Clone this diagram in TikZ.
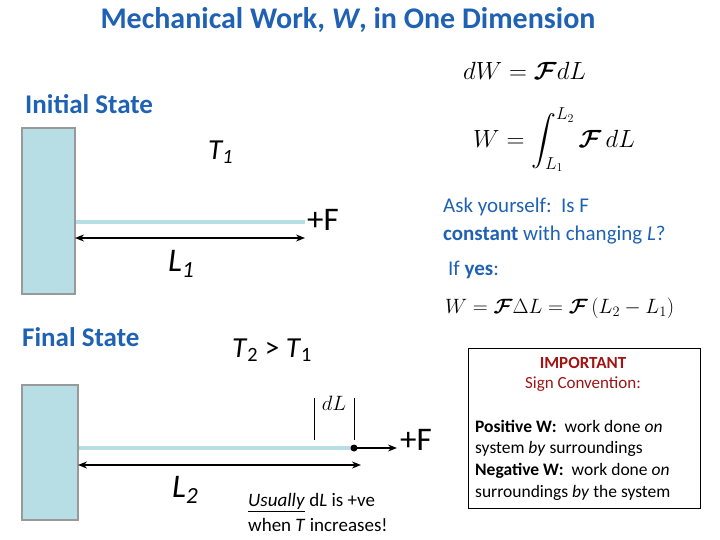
\documentclass[tikz,border=0pt]{standalone}
\usepackage{amsmath}
\usepackage{fontspec}
\setmainfont{Carlito}
\usetikzlibrary{arrows.meta}
\begin{document}
\begin{tikzpicture}[x=1pt,y=-1pt,
  wall/.style={draw=gray!80,fill={rgb,255:red,183;green,222;blue,228},line width=1.5pt},
  rod/.style={draw={rgb,255:red,183;green,222;blue,228},line width=4pt},
  dim/.style={{Stealth[length=9pt,width=7pt]}-{Stealth[length=9pt,width=7pt]},line width=2pt},
  blue/.style={text={rgb,255:red,31;green,98;blue,180}},
  lbl/.style={inner sep=0pt,anchor=west}]
\useasboundingbox (0,0) rectangle (720,540);
\node[blue,font=\bfseries\fontsize{30}{36}\selectfont] (title) at (348,20) {Mechanical Work, \textit{W}, in One Dimension};
\node[blue,lbl,font=\bfseries\fontsize{27}{30}\selectfont] (is) at (25,104) {Initial State};
\node[lbl,font=\itshape\fontsize{29}{32}\selectfont] (t1) at (208,152) {T\textsubscript{1}};
\draw[wall] (22,128) rectangle (75,294);
\coordinate (r1a) at (76,222); \coordinate (r1b) at (305,222);
\draw[rod] (r1a) -- (r1b);
\node[lbl,font=\fontsize{33}{36}\selectfont] (f1) at (307,220) {+F};
\coordinate (d1a) at (75,238); \coordinate (d1b) at (305,238);
\draw[dim] (d1a) -- (d1b);
\node[lbl,font=\itshape\fontsize{33}{36}\selectfont] (l1) at (168,264) {L\textsubscript{1}};
\node[blue,lbl,font=\bfseries\fontsize{27}{30}\selectfont] (fs) at (22,337) {Final State};
\node[lbl,font=\fontsize{29}{32}\selectfont] (t2) at (232,350) {\textit{T}\textsubscript{2} > \textit{T}\textsubscript{1}};
\draw[wall] (22,385) rectangle (78,520);
\coordinate (r2a) at (79,448); \coordinate (r2b) at (354,448);
\draw[rod] (r2a) -- (r2b);
\fill (r2b) circle (3.5);
\coordinate (fe) at (397,448);
\draw[-{Stealth[length=9pt,width=7pt]},line width=2pt] (r2b) -- (fe);
\node[lbl,font=\fontsize{33}{36}\selectfont] (f2) at (400,440) {+F};
\draw (314,398) -- (314,440);
\draw (354,398) -- (354,440);
\node[font=\fontsize{21}{24}\selectfont] (dl) at (334,403) {$dL$};
\coordinate (d2a) at (78,465); \coordinate (d2b) at (361,465);
\draw[dim] (d2a) -- (d2b);
\node[lbl,font=\itshape\fontsize{33}{36}\selectfont] (l2) at (172,490) {L\textsubscript{2}};
\node[lbl,font=\fontsize{19}{25}\selectfont,align=left] (us) at (248,512) {\underline{\textit{Usually}} d\textit{L} is +ve\\when \textit{T} increases!};
\node[lbl,font=\fontsize{25}{30}\selectfont] (e1) at (463,71) {$dW=\boldsymbol{\mathcal{F}}dL$};
\node[lbl,font=\fontsize{25}{30}\selectfont] (e2) at (473,140) {$W=\displaystyle\int_{L_1}^{L_2}\boldsymbol{\mathcal{F}}\,dL$};
\node[blue,lbl,font=\fontsize{21}{25}\selectfont] (a1) at (443,207) {Ask yourself:\ \ Is F};
\node[blue,lbl,font=\fontsize{21}{25}\selectfont] (a2) at (443,235) {\textbf{constant} with changing \textit{L}?};
\node[blue,lbl,font=\fontsize{21}{25}\selectfont] (a3) at (448,270) {If \textbf{yes}:};
\node[lbl,font=\fontsize{20.5}{25}\selectfont] (e3) at (445,308) {$W=\boldsymbol{\mathcal{F}}\Delta L=\boldsymbol{\mathcal{F}}\,(L_2-L_1)$};
\draw[line width=1pt] (468,348) rectangle (700,508);
\node[text={rgb,255:red,160;green,20;blue,20},font=\bfseries\fontsize{17}{20}\selectfont] (imp) at (583,363) {IMPORTANT};
\node[text={rgb,255:red,160;green,20;blue,20},font=\fontsize{17}{20}\selectfont] (sc) at (583,384) {Sign Convention:};
\node[lbl,align=left,font=\fontsize{17.5}{21.7}\selectfont] (pn) at (475,460) {\textbf{Positive W:}\ \ work done \textit{on}\\system \textit{by} surroundings\\\textbf{Negative W:}\ \ work done \textit{on}\\surroundings \textit{by} the system};
\end{tikzpicture}
\end{document}
